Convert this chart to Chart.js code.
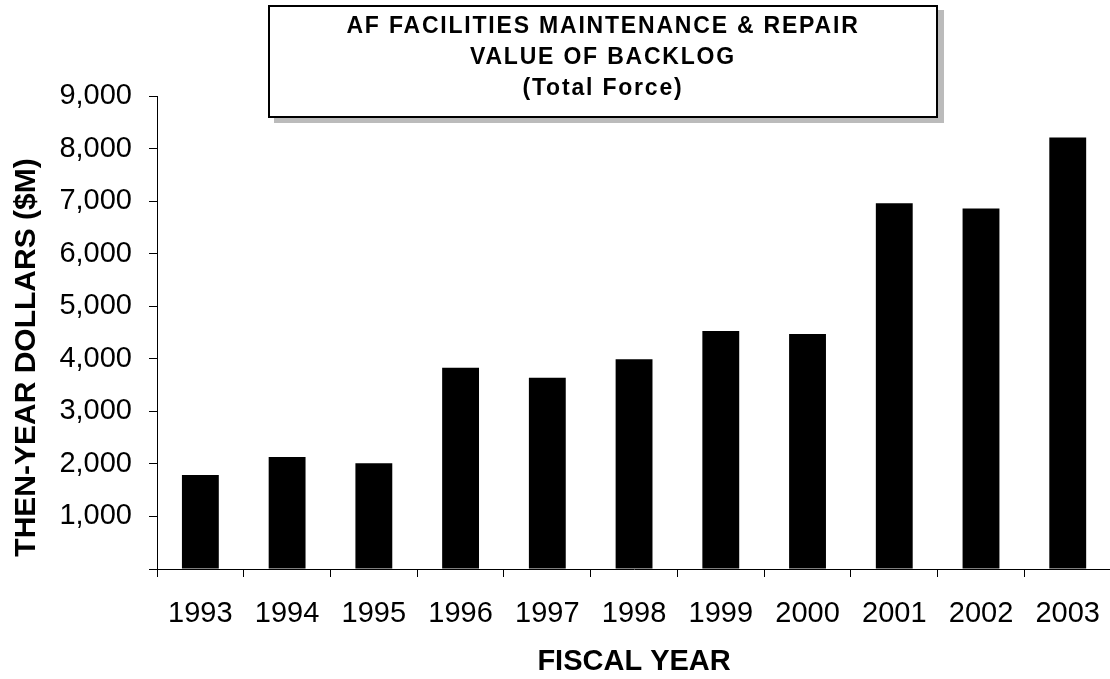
<!DOCTYPE html>
<html>
<head>
<meta charset="utf-8">
<script src="https://cdn.jsdelivr.net/npm/chart.js@4"></script>
<style>
  body { margin: 0; background: #fff; }
  #wrap { position: relative; width: 1110px; height: 679px; overflow: hidden; }
  #titleBox {
    position: absolute; left: 268px; top: 5px; width: 670px; height: 113px;
    border: 2px solid #000; background: #fff;
    box-shadow: 6px 5px 0 #bbb;
    font: bold 23px Arial, "Liberation Sans", sans-serif; letter-spacing: 1.8px;
    text-align: center; line-height: 31px; padding-top: 3px; box-sizing: border-box;
  }
</style>
</head>
<body>
<div id="wrap">
  <!-- canvas a bit wider than the page: the axis runs off the right edge as in the original -->
  <canvas id="myChart" width="1120" height="679"></canvas>
  <div id="titleBox">AF FACILITIES MAINTENANCE &amp; REPAIR<br>VALUE OF BACKLOG<br>(Total Force)</div>
</div>
<script>
const years = ['1993', '1994', '1995', '1996', '1997', '1998', '1999', '2000', '2001', '2002', '2003'];
const backlog = [1790, 2130, 2010, 3830, 3640, 3990, 4530, 4470, 6960, 6860, 8210];
const yTicks = [0, 1000, 2000, 3000, 4000, 5000, 6000, 7000, 8000, 9000];

const font = 'Arial, "Liberation Sans", sans-serif';

new Chart(document.getElementById('myChart').getContext('2d'), {
  type: 'bar',
  data: {
    labels: years,
    datasets: [{
      data: backlog,
      backgroundColor: '#000',
      borderWidth: 0,
      categoryPercentage: 1,
      barPercentage: 0.425
    }]
  },
  options: {
    responsive: false,
    animation: false,
    layout: { padding: { top: 96, right: 0, left: 0, bottom: 0 } },
    plugins: { legend: { display: false }, tooltip: { enabled: false } },
    scales: {
      x: {
        offset: true,
        grid: { offset: true, drawOnChartArea: false, drawTicks: true, tickLength: 8, color: '#000' },
        border: { color: '#000', width: 1 },
        ticks: { color: '#000', font: { family: font, size: 29 }, padding: 20, maxRotation: 0 },
        title: { display: true, text: 'FISCAL YEAR', color: '#000',
                 font: { family: font, size: 29, weight: 'bold' }, padding: { top: 0, bottom: 0 } },
        afterFit: (scale) => { scale.height = 110; }
      },
      y: {
        min: 0, max: 9000,
        afterBuildTicks: (scale) => { scale.ticks = yTicks.map(v => ({ value: v })); },
        grid: { drawOnChartArea: false, drawTicks: true, tickLength: 8, color: '#000' },
        border: { color: '#000', width: 1 },
        ticks: {
          color: '#000', font: { family: font, size: 29 }, padding: 17,
          callback: (v) => v === 0 ? '' : v.toLocaleString('en-US')
        },
        // trailing spaces push the rotated title a little lower, like the original
        title: { display: true, text: 'THEN-YEAR DOLLARS ($M)      ', color: '#000',
                 font: { family: font, size: 30, weight: 'bold' }, padding: { top: 9, bottom: 0 } },
        afterFit: (scale) => { scale.width = 157; }
      }
    }
  }
});
</script>
</body>
</html>
